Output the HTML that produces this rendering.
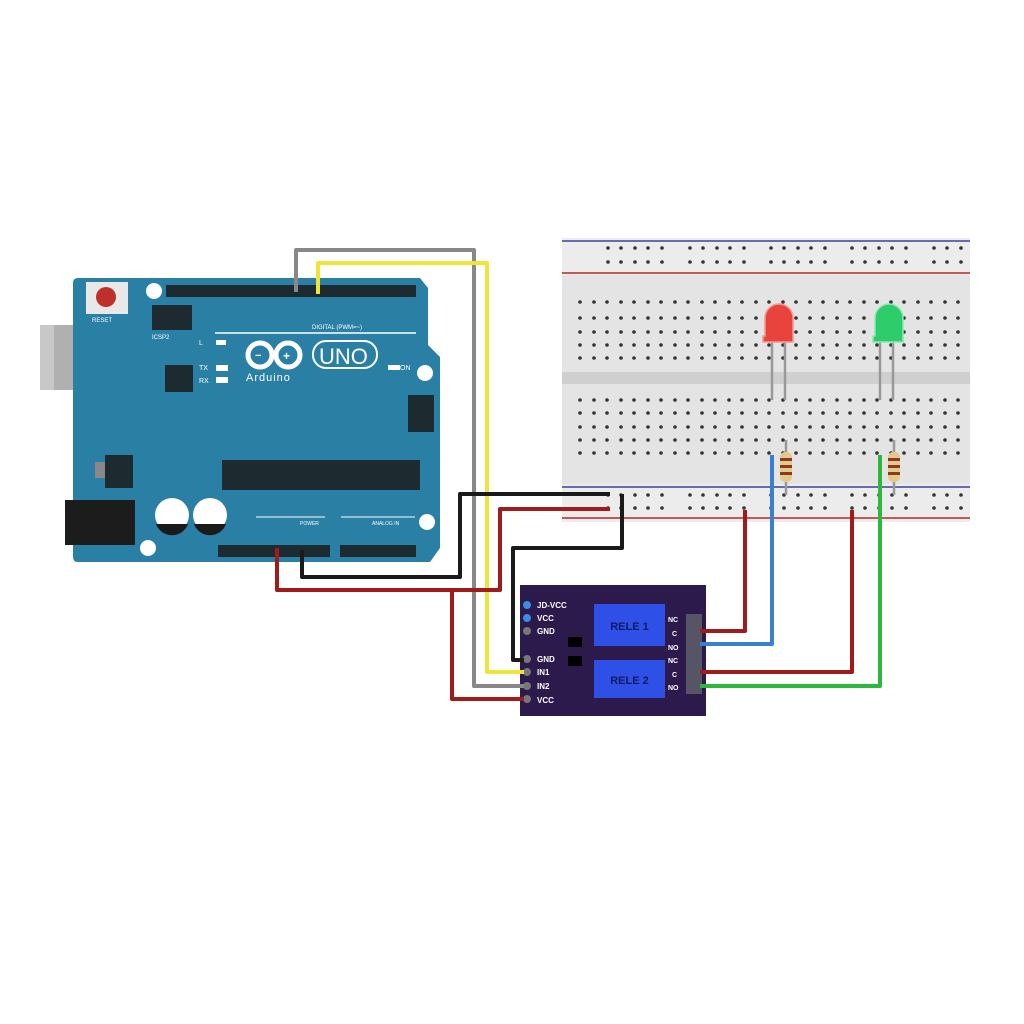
<!DOCTYPE html>
<html><head><meta charset="utf-8"><style>html,body{margin:0;padding:0;background:#fff}svg{display:block}</style></head><body>
<svg width="1024" height="1024" viewBox="0 0 1024 1024" xmlns="http://www.w3.org/2000/svg" font-family="Liberation Sans, sans-serif">
<defs>
<g id="rail">
<circle cx="608" cy="0" r="1.8"/><circle cx="621" cy="0" r="1.8"/><circle cx="635" cy="0" r="1.8"/><circle cx="648" cy="0" r="1.8"/><circle cx="662" cy="0" r="1.8"/>
<circle cx="690" cy="0" r="1.8"/><circle cx="703" cy="0" r="1.8"/><circle cx="717" cy="0" r="1.8"/><circle cx="730" cy="0" r="1.8"/><circle cx="744" cy="0" r="1.8"/>
<circle cx="771" cy="0" r="1.8"/><circle cx="784" cy="0" r="1.8"/><circle cx="798" cy="0" r="1.8"/><circle cx="811" cy="0" r="1.8"/><circle cx="825" cy="0" r="1.8"/>
<circle cx="852" cy="0" r="1.8"/><circle cx="865" cy="0" r="1.8"/><circle cx="879" cy="0" r="1.8"/><circle cx="892" cy="0" r="1.8"/><circle cx="906" cy="0" r="1.8"/>
<circle cx="934" cy="0" r="1.8"/><circle cx="947" cy="0" r="1.8"/><circle cx="961" cy="0" r="1.8"/>
</g>
<g id="row">
<circle cx="580" cy="0" r="1.8"/><circle cx="594" cy="0" r="1.8"/><circle cx="607" cy="0" r="1.8"/><circle cx="621" cy="0" r="1.8"/><circle cx="634" cy="0" r="1.8"/><circle cx="648" cy="0" r="1.8"/><circle cx="661" cy="0" r="1.8"/><circle cx="675" cy="0" r="1.8"/><circle cx="688" cy="0" r="1.8"/><circle cx="702" cy="0" r="1.8"/><circle cx="715" cy="0" r="1.8"/><circle cx="729" cy="0" r="1.8"/><circle cx="742" cy="0" r="1.8"/><circle cx="756" cy="0" r="1.8"/><circle cx="769" cy="0" r="1.8"/><circle cx="783" cy="0" r="1.8"/><circle cx="796" cy="0" r="1.8"/><circle cx="810" cy="0" r="1.8"/><circle cx="823" cy="0" r="1.8"/><circle cx="837" cy="0" r="1.8"/><circle cx="850" cy="0" r="1.8"/><circle cx="864" cy="0" r="1.8"/><circle cx="877" cy="0" r="1.8"/><circle cx="891" cy="0" r="1.8"/><circle cx="904" cy="0" r="1.8"/><circle cx="918" cy="0" r="1.8"/><circle cx="931" cy="0" r="1.8"/><circle cx="945" cy="0" r="1.8"/><circle cx="958" cy="0" r="1.8"/>
</g>
</defs>
<rect width="1024" height="1024" fill="#fff"/>
<!-- Breadboard -->
<rect x="562" y="238" width="408" height="284" fill="#e4e4e4"/>
<rect x="562" y="238" width="408" height="37" fill="#ececec"/>
<rect x="562" y="484" width="408" height="38" fill="#ececec"/>
<line x1="562" y1="241" x2="970" y2="241" stroke="#6a6ab0" stroke-width="2"/>
<line x1="562" y1="273" x2="970" y2="273" stroke="#c05a5a" stroke-width="2"/>
<line x1="562" y1="487" x2="970" y2="487" stroke="#6a6ab0" stroke-width="2"/>
<line x1="562" y1="518" x2="970" y2="518" stroke="#c05a5a" stroke-width="2"/>
<rect x="562" y="372" width="408" height="12" fill="#cfcfcf"/>
<g fill="#333">
<use href="#rail" transform="translate(0,248)"/><use href="#rail" transform="translate(0,262)"/>
<use href="#rail" transform="translate(0,495)"/><use href="#rail" transform="translate(0,508)"/>
<use href="#row" transform="translate(0,302)"/><use href="#row" transform="translate(0,318)"/><use href="#row" transform="translate(0,332)"/><use href="#row" transform="translate(0,345)"/><use href="#row" transform="translate(0,358)"/>
<use href="#row" transform="translate(0,400)"/><use href="#row" transform="translate(0,413)"/><use href="#row" transform="translate(0,427)"/><use href="#row" transform="translate(0,440)"/><use href="#row" transform="translate(0,453)"/>
</g>
<!-- LEDs -->
<g stroke="#999" stroke-width="2.5">
<line x1="772" y1="340" x2="772" y2="400"/><line x1="785" y1="340" x2="785" y2="400"/>
<line x1="880" y1="340" x2="880" y2="400"/><line x1="893" y1="340" x2="893" y2="400"/>
<line x1="786" y1="440" x2="786" y2="495"/><line x1="894" y1="440" x2="894" y2="495"/>
</g>
<path d="M765 318 a14 14 0 0 1 28 0 v24 h-30 v-6 h2z" fill="#e8443c" stroke="#f29a94" stroke-width="1.5"/>
<path d="M875 318 a14 14 0 0 1 28 0 v24 h-30 v-6 h2z" fill="#2fcc6c" stroke="#8fe8b0" stroke-width="1.5"/>
<g fill="#e5c98a"><rect x="780" y="452" width="12" height="30" rx="5"/><rect x="888" y="452" width="12" height="30" rx="5"/></g>
<g fill="#8a3a20"><rect x="780" y="458" width="12" height="3"/><rect x="780" y="465" width="12" height="3"/><rect x="780" y="472" width="12" height="3"/>
<rect x="888" y="458" width="12" height="3"/><rect x="888" y="465" width="12" height="3"/><rect x="888" y="472" width="12" height="3"/></g>
<!-- Arduino -->
<rect x="40" y="325" width="83" height="65" fill="#b0b0b0"/>
<rect x="40" y="325" width="14" height="65" fill="#c8c8c8"/>
<path d="M78 278 H420 L428 288 V345 L440 357 V548 L430 562 H78 Q73 562 73 557 V283 Q73 278 78 278Z" fill="#2a7fa5"/>
<rect x="65" y="500" width="70" height="45" fill="#1c1c1c"/>
<rect x="86" y="282" width="42" height="32" fill="#e8e8e8"/>
<circle cx="106" cy="297" r="10" fill="#c0302a"/>
<text x="92" y="322" font-size="6" fill="#fff">RESET</text>
<g fill="#fff"><circle cx="154" cy="291" r="8"/><circle cx="425" cy="373" r="8"/><circle cx="427" cy="522" r="8"/><circle cx="148" cy="548" r="8"/></g>
<rect x="166" y="285" width="250" height="12" fill="#1d2a30"/>
<rect x="218" y="545" width="112" height="12" fill="#1d2a30"/>
<rect x="340" y="545" width="76" height="12" fill="#1d2a30"/>
<rect x="152" y="305" width="40" height="25" fill="#1d2a30"/>
<rect x="408" y="395" width="26" height="37" fill="#1d2a30"/>
<rect x="165" y="365" width="28" height="27" fill="#1d2a30"/>
<rect x="222" y="460" width="198" height="30" fill="#1d2a30"/>
<rect x="105" y="455" width="28" height="33" fill="#1d2a30"/>
<rect x="95" y="462" width="10" height="16" fill="#888"/>
<g fill="#fff"><rect x="216" y="340" width="10" height="5"/><rect x="216" y="365" width="12" height="6"/><rect x="216" y="377" width="12" height="6"/><rect x="388" y="365" width="12" height="5"/></g>
<text x="199" y="345" font-size="7" fill="#fff">L</text><text x="199" y="370" font-size="7" fill="#fff">TX</text><text x="199" y="383" font-size="7" fill="#fff">RX</text>
<text x="400" y="370" font-size="7" fill="#fff">ON</text>
<text x="152" y="339" font-size="6" fill="#fff">ICSP2</text>
<text x="312" y="329" font-size="6" fill="#fff">DIGITAL (PWM=~)</text>
<line x1="215" y1="333" x2="416" y2="333" stroke="#fff" stroke-width="1.5"/>
<g fill="none" stroke="#fff" stroke-width="5"><circle cx="260" cy="355" r="12"/><circle cx="288" cy="355" r="12"/></g>
<text x="255" y="359" font-size="11" fill="#fff" font-weight="bold">−</text><text x="283" y="360" font-size="12" fill="#fff" font-weight="bold">+</text>
<rect x="313" y="341" width="64" height="27" rx="13" fill="none" stroke="#fff" stroke-width="2"/>
<text x="319" y="364" font-size="22" fill="#fff">UNO</text>
<text x="246" y="381" font-size="11" fill="#fff" letter-spacing="1">Arduino</text>
<g fill="#fff"><circle cx="172" cy="515" r="17"/><circle cx="210" cy="515" r="17"/></g>
<g fill="#1a1a1a"><path d="M156 524 h32 a17 17 0 0 1 -32 0z"/><path d="M194 524 h32 a17 17 0 0 1 -32 0z"/></g>
<line x1="256" y1="517" x2="325" y2="517" stroke="#fff" stroke-width="1"/>
<line x1="341" y1="517" x2="415" y2="517" stroke="#fff" stroke-width="1"/>
<text x="300" y="525" font-size="5" fill="#fff">POWER</text><text x="372" y="525" font-size="5" fill="#fff">ANALOG IN</text>
<!-- Relay -->
<rect x="520" y="585" width="186" height="131" fill="#2c1a4d"/>
<rect x="594" y="604" width="71" height="42" fill="#2e50e6"/>
<rect x="594" y="660" width="71" height="38" fill="#2e50e6"/>
<text x="629.5" y="630" font-size="11" font-weight="bold" fill="#0d1a66" text-anchor="middle">RELE 1</text>
<text x="629.5" y="684" font-size="11" font-weight="bold" fill="#0d1a66" text-anchor="middle">RELE 2</text>
<rect x="568" y="637" width="14" height="10" fill="#000"/><rect x="568" y="656" width="14" height="10" fill="#000"/>
<g font-size="8" font-weight="bold" fill="#fff">
<text x="537" y="608">JD-VCC</text><text x="537" y="621">VCC</text><text x="537" y="634">GND</text>
<text x="537" y="662">GND</text><text x="537" y="675">IN1</text><text x="537" y="689">IN2</text><text x="537" y="703">VCC</text>
<text x="668" y="622" font-size="7">NC</text><text x="672" y="636" font-size="7">C</text><text x="668" y="650" font-size="7">NO</text>
<text x="668" y="663" font-size="7">NC</text><text x="672" y="677" font-size="7">C</text><text x="668" y="690" font-size="7">NO</text>
</g>
<g fill="#3a8ee0"><circle cx="527" cy="605" r="4"/><circle cx="527" cy="618" r="4"/></g>
<g fill="#777"><circle cx="527" cy="631" r="4"/><circle cx="527" cy="659" r="4"/><circle cx="527" cy="686" r="4"/><circle cx="527" cy="699" r="4"/><circle cx="527" cy="672" r="4"/></g>
<g fill="#556"><rect x="686" y="614" width="16" height="80"/></g>
<!-- Wires -->
<g fill="none" stroke-width="4" stroke-linejoin="round">
<path d="M296 292 V250 H474 V686 H524" stroke="#888"/>
<path d="M318 294 V263 H487 V672 H524" stroke="#f0e43a"/>
<path d="M302 550 V577 H460 V494 H610" stroke="#1a1a1a"/>
<path d="M277 548 V590 H500 V509 H610" stroke="#a01c1c"/>
<path d="M452 590 V699 H524" stroke="#a01c1c"/>
<path d="M622 494 V548 H513 V660 H524" stroke="#1a1a1a"/>
<path d="M700 631 H745 V510" stroke="#a01c1c"/>
<path d="M700 644 H772 V455" stroke="#3a7fd0"/>
<path d="M700 672 H852 V510" stroke="#a01c1c"/>
<path d="M700 686 H880 V455" stroke="#2cb83c"/>
</g>
</svg>
</body></html>
